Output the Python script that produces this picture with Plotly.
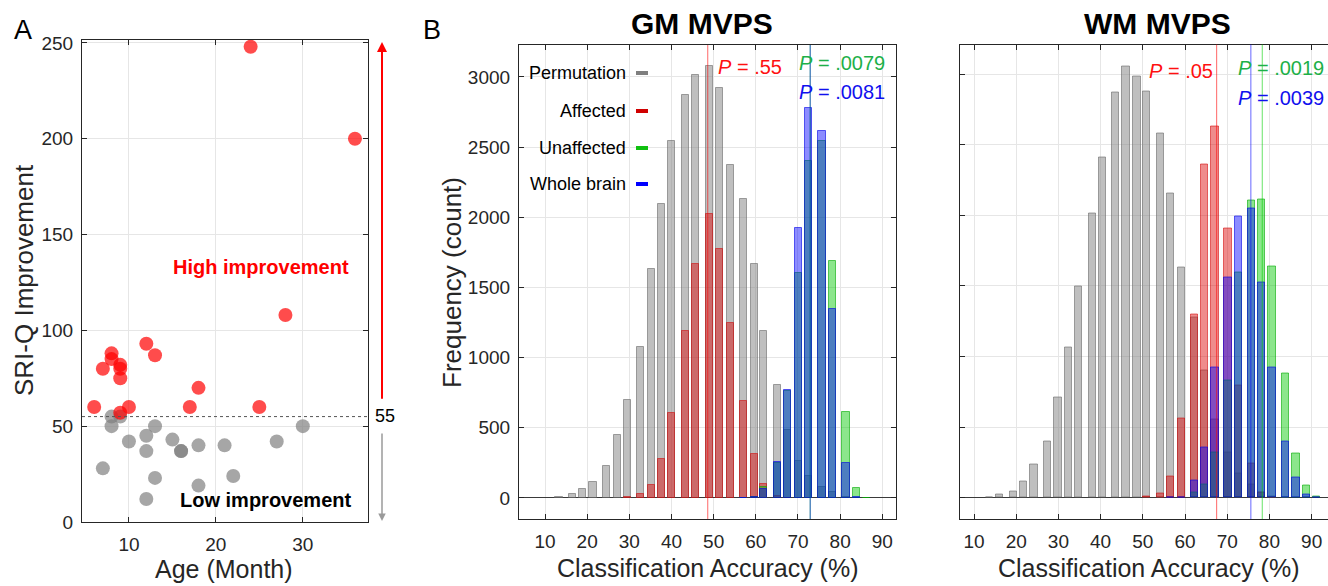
import plotly.graph_objects as go

W, H = 1328, 586
FONT = "Liberation Sans, Arial, sans-serif"
DARK = "#262626"
GRID = "#e6e6e6"

# ---------------- Panel A data ----------------
high_age = [6, 7, 8, 8, 9, 9, 9, 9, 10, 12, 13, 17, 18, 24, 25, 28, 36]
high_sri = [60, 80, 88, 85, 82, 80, 75, 57, 60, 93, 87, 60, 70, 248, 60, 108, 200]
low_age = [7, 8, 8, 9, 10, 12, 12, 12, 13, 13, 15, 16, 16, 18, 18, 21, 22, 27, 30]
low_sri = [28, 55, 50, 55, 42, 45, 37, 12, 50, 23, 43, 37, 37, 40, 19, 40, 24, 42, 50]
threshold = 55
a_xticks = [10, 20, 30]
a_yticks = [0, 50, 100, 150, 200, 250]

# ---------------- Panel B data: GM MVPS ----------------
gm_acc = [13.3, 16.6, 18.9, 21.4, 24.6, 27.1, 29.5, 32.7, 35.2, 37.6, 40.0, 43.3, 45.7, 49.0,
          51.4, 53.9, 57.0, 59.6, 61.9, 65.2, 67.6, 70.1, 72.5, 75.7, 78.1, 81.4, 83.8, 86.2]
gm_perm = [8, 26, 64, 116, 228, 451, 698, 1073, 1629, 2095, 2542, 2870, 3013, 3076,
           2925, 2372, 2127, 1664, 1189, 805, 484, 265, 155, 81, 42, 10, 3, 0]
gm_affected = [0, 0, 0, 0, 0, 0, 6, 26, 93, 275, 608, 1192, 1664, 2023,
               1771, 1244, 691, 316, 97, 12, 3, 0, 0, 0, 0, 0, 0, 0]
gm_unaffected = [0, 0, 0, 0, 0, 0, 0, 0, 0, 0, 0, 0, 0, 0,
                 0, 0, 2, 8, 75, 250, 760, 1605, 2400, 2545, 1688, 615, 73, 3]
gm_whole = [0, 0, 0, 0, 0, 0, 0, 0, 0, 0, 0, 0, 0, 0,
            0, 0, 3, 10, 62, 256, 769, 1921, 2778, 2613, 1344, 247, 6, 0]
gm_line_affected = 48.6
gm_line_unaffected = 72.9
gm_line_whole = 72.9
gm_p = [".55", ".0079", ".0081"]

# ---------------- Panel B data: WM MVPS ----------------
wm_acc = [13.6, 16.0, 19.3, 21.7, 24.2, 27.4, 29.9, 32.3, 34.8, 38.0, 40.4, 43.6, 46.0, 48.6, 50.9,
          54.1, 56.6, 59.1, 62.3, 64.7, 67.1, 70.2, 72.6, 75.7, 78.1, 80.6, 83.9, 86.3, 88.8, 91.2]
wm_perm = [4, 26, 42, 118, 233, 398, 709, 1061, 1497, 2016, 2408, 2869, 3050, 2980, 2878,
           2579, 2153, 1631, 1278, 898, 556, 320, 170, 97, 40, 10, 3, 0, 0, 0]
wm_affected = [0, 0, 0, 0, 0, 0, 0, 0, 0, 0, 0, 0, 0, 0, 8,
               33, 151, 563, 1300, 2360, 2631, 1906, 797, 240, 35, 5, 0, 0, 0, 0]
wm_unaffected = [0, 0, 0, 0, 0, 0, 0, 0, 0, 0, 0, 0, 0, 0, 0,
                 0, 0, 0, 40, 97, 320, 830, 1594, 2107, 2112, 1636, 877, 316, 85, 6]
wm_whole = [0, 0, 0, 0, 0, 0, 0, 0, 0, 0, 0, 0, 0, 0, 0,
            0, 2, 5, 120, 356, 924, 1561, 1990, 2049, 1525, 921, 396, 141, 21, 2]
wm_line_affected = 67.5
wm_line_unaffected = 78.3
wm_line_whole = 75.6
wm_p = [".05", ".0019", ".0039"]

b_xticks = [10, 20, 30, 40, 50, 60, 70, 80, 90]
b_yticks = [0, 500, 1000, 1500, 2000, 2500, 3000]

series_names = ["Permutation", "Affected", "Unaffected", "Whole brain"]
fills = ["rgba(128,128,128,0.5)", "rgba(220,0,0,0.45)", "rgba(0,200,0,0.45)", "rgba(0,0,255,0.45)"]
edges = ["rgba(105,105,105,0.6)", "rgba(210,0,0,0.55)", "rgba(0,170,0,0.6)", "rgba(0,0,230,0.6)"]
legend_colors = ["#7f7f7f", "#d00000", "#10c010", "#0000ff"]
line_colors = ["rgba(255,0,0,0.6)", "rgba(0,210,0,0.6)", "rgba(0,0,255,0.6)"]
p_colors = ["#ff1010", "#1db048", "#1010ee"]


def xd(l, r):
    return [l / W, r / W]


def yd(t, b):
    return [1 - b / H, 1 - t / H]


fig = go.Figure()

# Panel A scatter
fig.add_trace(go.Scatter(x=low_age, y=low_sri, mode="markers", xaxis="x", yaxis="y",
                         marker=dict(size=14, color="rgba(128,128,128,0.7)", line=dict(width=0)),
                         showlegend=False))
fig.add_trace(go.Scatter(x=high_age, y=high_sri, mode="markers", xaxis="x", yaxis="y",
                         marker=dict(size=14, color="rgba(255,0,0,0.7)", line=dict(width=0)),
                         showlegend=False))


def add_hist(acc, series, xa, ya):
    for i, vals in enumerate(series):
        xs = [a for a, v in zip(acc, vals) if v > 0]
        ys = [v for v in vals if v > 0]
        fig.add_trace(go.Bar(x=xs, y=ys, width=1.7, xaxis=xa, yaxis=ya, name=series_names[i],
                             marker=dict(color=fills[i], line=dict(color=edges[i], width=1)),
                             showlegend=False))


add_hist(gm_acc, [gm_perm, gm_affected, gm_unaffected, gm_whole], "x2", "y2")
add_hist(wm_acc, [wm_perm, wm_affected, wm_unaffected, wm_whole], "x3", "y3")

axis_common = dict(showline=True, linecolor=DARK, linewidth=1.2, ticks="inside", ticklen=5,
                   tickcolor=DARK, showgrid=True, gridcolor=GRID, gridwidth=1,
                   tickfont=dict(family=FONT, size=19, color=DARK), zeroline=False)

# width/height come from the page container (see write_html below), which is 1328x586
fig.update_layout(
    margin=dict(l=0, r=0, t=0, b=0, autoexpand=False),
    plot_bgcolor="white", paper_bgcolor="white", barmode="overlay", bargap=0,
    font=dict(family=FONT, color=DARK),
    xaxis=dict(domain=xd(82, 368), range=[4.6, 37.5], tickvals=a_xticks, mirror="ticks",
               anchor="y", ticklabelstandoff=5, **axis_common),
    yaxis=dict(domain=yd(40, 522), range=[0, 251.5], tickvals=a_yticks, mirror="ticks",
               anchor="x", ticklabelstandoff=4, **axis_common),
    xaxis2=dict(domain=xd(519, 896), range=[3.83, 93.25], tickvals=b_xticks, mirror="ticks",
                anchor="y2", ticklabelstandoff=5, **axis_common),
    yaxis2=dict(domain=yd(45, 519), range=[-150, 3228], tickvals=b_yticks, mirror="ticks",
                anchor="x2", ticklabelstandoff=4, **axis_common),
    xaxis3=dict(domain=xd(960, 1328), range=[6.68, 93.88], tickvals=b_xticks, mirror="ticks",
                anchor="y3", ticklabelstandoff=5, **axis_common),
    yaxis3=dict(domain=yd(44.5, 519), range=[-150, 3209], tickvals=b_yticks, mirror=False,
                anchor="x3", showticklabels=False, **axis_common),
)
fig.update_layout(yaxis2_zeroline=True, yaxis2_zerolinecolor="#3a3a3a", yaxis2_zerolinewidth=1,
                  yaxis3_zeroline=True, yaxis3_zerolinecolor="#3a3a3a", yaxis3_zerolinewidth=1)

# Threshold dotted line in panel A
fig.add_shape(type="line", xref="x domain", yref="y", x0=0, x1=1, y0=threshold, y1=threshold,
              line=dict(color="#555555", width=1, dash="dot"))

# Vertical P lines
for xa, vals in (("x2", [gm_line_affected, gm_line_unaffected, gm_line_whole]),
                 ("x3", [wm_line_affected, wm_line_unaffected, wm_line_whole])):
    ya = "y2" if xa == "x2" else "y3"
    for v, c in zip(vals, line_colors):
        fig.add_shape(type="line", xref=xa, yref=ya + " domain", x0=v, x1=v, y0=0, y1=1,
                      line=dict(color=c, width=1), layer="above")

annotations = []


def ann(text, px, py, size, color=DARK, xanchor="center", yanchor="middle", angle=0):
    annotations.append(dict(text=text, x=px / W, y=1 - py / H, xref="paper", yref="paper",
                            showarrow=False, xanchor=xanchor, yanchor=yanchor, textangle=angle,
                            font=dict(family=FONT, size=size, color=color)))


# Panel letters
ann("A", 23, 30, 27, "black")
ann("B", 432, 30, 27, "black")

# Panel A texts
ann("SRI-Q Improvement", 24, 280, 26, DARK, angle=-90)
ann("Age (Month)", 224, 569, 25, DARK)
ann("<b>High improvement</b>", 261, 267, 20, "#ff0000")
ann("<b>Low improvement</b>", 265, 500, 20, "black")
ann(str(threshold), 385, 416, 18, "black")

# Arrows in panel A
annotations.append(dict(text="", x=382 / W, y=250.5, xref="paper", yref="y", ax=0, ay=threshold + 8.5,
                        axref="pixel", ayref="y", showarrow=True, arrowhead=2, arrowsize=1,
                        arrowwidth=2, arrowcolor="#ff0000"))
annotations.append(dict(text="", x=382 / W, y=0.5, xref="paper", yref="y", ax=0, ay=threshold - 8,
                        axref="pixel", ayref="y", showarrow=True, arrowhead=2, arrowsize=1,
                        arrowwidth=1.5, arrowcolor="#9a9a9a"))

# Panel B titles
ann("<b>GM MVPS</b>", 702, 24, 30, "black")
ann("<b>WM MVPS</b>", 1157, 24, 30, "black")
ann("Frequency (count)", 452, 283, 26, DARK, angle=-90)
ann("Classification Accuracy (%)", 707, 568, 25, DARK)
ann("Classification Accuracy (%)", 1148, 568, 25, DARK)

# GM legend
legend_rows = [73, 111, 148, 184]
for name, c, py in zip(series_names, legend_colors, legend_rows):
    ann(name, 628, py, 18, "black", xanchor="right")
    fig.add_shape(type="line", xref="paper", yref="paper", x0=636 / W, x1=648 / W,
                  y0=1 - py / H, y1=1 - py / H, line=dict(color=c, width=4))

# P-value labels
ann("<i>P</i> = " + gm_p[0], 716, 67, 20, p_colors[0], xanchor="left")
ann("<i>P</i> = " + gm_p[1], 797, 63, 20, p_colors[1], xanchor="left")
ann("<i>P</i> = " + gm_p[2], 797, 92, 20, p_colors[2], xanchor="left")
ann("<i>P</i> = " + wm_p[0], 1147, 71, 20, p_colors[0], xanchor="left")
ann("<i>P</i> = " + wm_p[1], 1236, 68, 20, p_colors[1], xanchor="left")
ann("<i>P</i> = " + wm_p[2], 1236, 98, 20, p_colors[2], xanchor="left")

fig.update_layout(annotations=annotations)

# Place the plot container at the page origin so the page does not overflow the 1328x586 window
fig.write_html("out.html", config={"displayModeBar": False},
               default_width="1328px; position:absolute; left:0px; top:0px",
               default_height="586px")
